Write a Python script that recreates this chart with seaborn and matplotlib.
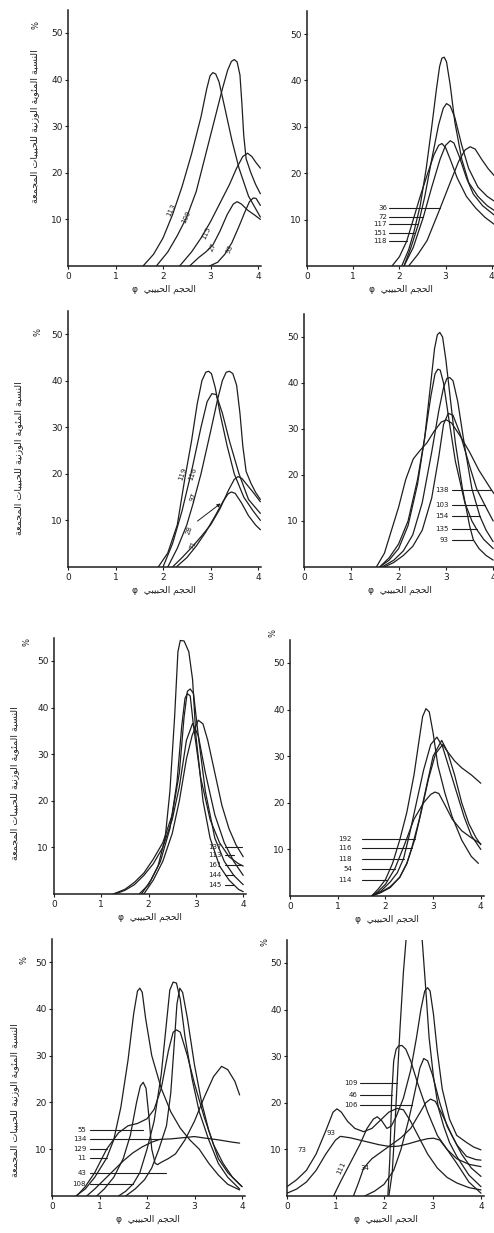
import matplotlib
matplotlib.use("Agg")
import matplotlib.pyplot as plt
import pandas as pd
import seaborn as sns

# grain size curves, phi (x) vs weight percent (y), 8 panels

# panel 1 (top left)
p1_names = ["113", "109", "115", "27", "93"]
p1_phi = [
    [1.58, 1.8, 2.0, 2.2, 2.4, 2.6, 2.8, 2.92, 2.99, 3.05, 3.11, 3.18, 3.3, 3.45, 3.6, 3.8, 4.05],
    [1.86, 2.1, 2.3, 2.5, 2.7, 2.9, 3.1, 3.25, 3.36, 3.44, 3.5, 3.56, 3.62, 3.66, 3.7, 3.75, 3.85, 3.95, 4.05],
    [2.35, 2.6, 2.8, 3.0, 3.2, 3.4, 3.55, 3.68, 3.78, 3.87, 3.95, 4.05],
    [2.56, 2.75, 2.9, 3.05, 3.2, 3.35, 3.48, 3.56, 3.65, 3.78, 3.92, 4.05],
    [2.98, 3.15, 3.3, 3.45, 3.6, 3.72, 3.82, 3.9, 3.96, 4.05],
]
p1_pct = [
    [0, 2.5, 6, 11, 17, 24, 32, 38, 40.8, 41.5, 41.2, 39.5, 34, 27, 21, 15, 10.5],
    [0, 3, 6.5, 10.5, 16, 24, 32, 38, 42, 43.9, 44.3, 43.8, 41, 35, 28, 23, 20, 17.5, 15.5],
    [0, 3, 6, 9.5, 13.5, 17.5, 21, 23.5, 24.2, 23.5, 22.3, 21],
    [0, 1.8, 3, 4.5, 7.5, 11, 13.3, 13.8, 13.3, 12, 11, 10],
    [0, 0.8, 2.5, 5, 8.5, 11.5, 13.8, 14.6, 14.5, 13],
]

# panel 2 (top right)
p2_names = ["36", "72", "117", "151", "118"]
p2_phi = [
    [2.2, 2.4, 2.6, 2.88, 3.1, 3.28, 3.42, 3.53, 3.64, 3.78, 3.92, 4.05],
    [2.1, 2.3, 2.52, 2.7, 2.88, 3.0, 3.1, 3.18, 3.3, 3.45, 3.6, 3.8, 4.05],
    [2.1, 2.25, 2.41, 2.55, 2.7, 2.85, 2.95, 3.02, 3.1, 3.2, 3.35, 3.5, 3.7, 3.9, 4.05],
    [2.05, 2.2, 2.31, 2.45, 2.58, 2.7, 2.8, 2.87, 2.92, 2.97, 3.02, 3.1, 3.2, 3.35, 3.5, 3.7, 3.9, 4.05],
    [1.84, 2.0, 2.16, 2.3, 2.45, 2.6, 2.75, 2.85, 2.92, 3.0, 3.1, 3.25, 3.45, 3.65, 3.85, 4.05],
]
p2_pct = [
    [0, 2.5, 5.5, 12.4, 18, 22.5, 25, 25.7, 25.2, 23, 21, 19.5],
    [0, 4, 10.6, 17, 23, 26, 27, 26.5, 23.5, 19, 15.5, 13, 11],
    [0, 4, 9, 15, 23, 30.5, 34, 35, 34.5, 32, 26, 21, 17, 15, 14],
    [0, 3.5, 7.2, 13, 21, 30, 38, 43, 44.8, 45, 44, 39, 31, 23, 18, 15, 13, 12],
    [0, 2, 5.4, 10, 15, 19.6, 24, 26, 26.4, 25.5, 23, 19, 15, 12.5, 10.5, 9],
]

# panel 3
p3_names = ["119", "116", "97", "28", "71"]
p3_phi = [
    [1.9, 2.1, 2.3, 2.46, 2.6, 2.72, 2.82, 2.9, 2.96, 3.02, 3.1, 3.2, 3.35, 3.5, 3.7, 3.9, 4.05],
    [2.0, 2.2, 2.4, 2.6, 2.8, 2.93, 3.03, 3.12, 3.25, 3.4, 3.6, 3.8, 4.05],
    [2.1, 2.3, 2.5, 2.63, 2.8, 3.0, 3.15, 3.25, 3.33, 3.4, 3.47, 3.55, 3.62, 3.68, 3.75, 3.85, 3.95, 4.05],
    [2.28, 2.5, 2.7, 2.9, 3.1, 3.26, 3.37, 3.44, 3.52, 3.65, 3.8, 3.95, 4.05],
    [2.2, 2.4, 2.63, 2.8, 3.0, 3.2, 3.38, 3.5, 3.58, 3.66, 3.78, 3.9, 4.05],
]
p3_pct = [
    [0, 3, 9, 19, 27, 35, 40, 41.8, 42, 41.5, 38.5, 33, 26, 20, 15, 12, 10],
    [0, 5, 12, 20.5, 30, 35.5, 37.2, 37, 33, 27, 20, 14.5, 11.5],
    [0, 4, 9, 13.5, 20, 29, 36, 40, 41.8, 42, 41.5, 39, 33, 26, 20.5, 18, 16, 14.5],
    [0, 2, 4.5, 7.5, 11, 14, 15.7, 16.1, 15.8, 13.8, 11, 9, 8],
    [0, 2, 4.5, 6.5, 9, 12.5, 16.5, 18.8, 19.4, 19, 17.5, 16, 14],
]

# panel 4
p4_names = ["138", "103", "154", "135", "93"]
p4_phi = [
    [1.53, 1.7, 1.85, 2.0, 2.15, 2.31, 2.45, 2.6, 2.75, 2.9, 3.01, 3.12, 3.3, 3.5, 3.7, 3.96, 4.05],
    [1.7, 1.9, 2.1, 2.3, 2.5, 2.7, 2.85, 2.95, 3.05, 3.15, 3.3, 3.5, 3.65, 3.82, 4.0],
    [1.65, 1.9, 2.1, 2.3, 2.5, 2.7, 2.85, 2.95, 3.02, 3.08, 3.15, 3.25, 3.4, 3.55, 3.72, 3.85, 4.0],
    [1.6, 1.8, 2.0, 2.2, 2.4, 2.55, 2.68, 2.77, 2.83, 2.88, 2.95, 3.05, 3.2, 3.4, 3.55, 3.65, 3.8, 4.0],
    [1.6, 1.8, 2.0, 2.2, 2.4, 2.55, 2.68, 2.76, 2.82, 2.87, 2.93, 3.0, 3.1, 3.2, 3.35, 3.5, 3.58, 3.7, 3.85, 4.0],
]
p4_pct = [
    [0, 3, 8, 13, 19, 23.5, 25.3, 27, 29.5, 31.5, 32, 31.3, 28.5, 25, 21, 16.8, 15.5],
    [0, 1, 2.5, 4.5, 8, 15, 24, 31, 33.4, 33, 29, 22, 17, 13.5, 10],
    [0, 1.5, 3.5, 7, 14, 25, 34, 39, 41, 41.2, 40.5, 36, 26, 17, 11, 8, 5.5],
    [0, 2, 5, 10, 19, 28, 37, 42, 43, 42.8, 40, 33, 23, 14, 10, 8.2, 6, 4],
    [0, 1.5, 4, 9, 18, 28, 40, 47.5, 50.5, 51, 50, 45, 36, 27, 17, 9, 5.9, 4, 2.5, 1.5],
]

# panel 5
p5_names = ["137", "113", "161", "144", "145"]
p5_phi = [
    [1.9, 2.1, 2.3, 2.5, 2.65, 2.8, 2.92, 3.05, 3.15, 3.25, 3.4, 3.55, 3.7, 3.85, 4.0],
    [1.3, 1.5, 1.7, 1.9, 2.1, 2.3, 2.5, 2.65, 2.8, 2.93, 3.05, 3.2, 3.4, 3.6, 3.8, 4.0],
    [1.85, 2.05, 2.25, 2.45, 2.6, 2.7, 2.77, 2.82, 2.88, 2.95, 3.1, 3.3, 3.5, 3.7, 3.9, 4.0],
    [1.25, 1.5, 1.7, 1.9, 2.1, 2.3, 2.5, 2.65, 2.75, 2.82, 2.88, 2.95, 3.05, 3.2, 3.4, 3.6, 3.8, 4.0],
    [1.8, 2.0, 2.2, 2.35, 2.45, 2.55, 2.62, 2.67, 2.75, 2.85, 2.93, 3.0, 3.15, 3.3, 3.5, 3.7, 3.9, 4.0],
]
p5_pct = [
    [0, 3, 7, 13, 20, 29, 34, 37.3, 36.5, 33, 26, 19, 14, 10.5, 8],
    [0, 0.8, 2, 4, 6.5, 10, 16, 23, 33, 36.6, 34, 26, 17, 11, 7, 4],
    [0, 3, 7, 14, 24, 36, 42, 43, 42.5, 36, 25, 16, 11, 8, 6.5, 6],
    [0, 1, 2.5, 4.5, 7.5, 11, 17, 26, 38, 43.5, 44, 43, 34, 22, 12, 7, 4, 2],
    [0, 2, 6, 12, 22, 38, 52, 54.4, 54.3, 52, 46, 34, 20, 12, 6, 3, 1, 0.5],
]

# panel 6
p6_names = ["192", "116", "118", "54", "114"]
p6_phi = [
    [1.71, 1.9, 2.1, 2.3, 2.45, 2.62, 2.75, 2.9, 3.05, 3.2, 3.3, 3.45, 3.6, 3.8, 4.0],
    [1.71, 1.9, 2.1, 2.3, 2.45, 2.55, 2.7, 2.85, 3.0, 3.18, 3.3, 3.45, 3.6, 3.75, 3.9, 4.0],
    [1.71, 1.9, 2.1, 2.25, 2.38, 2.5, 2.65, 2.8, 2.95, 3.08, 3.2, 3.35, 3.5, 3.65, 3.8, 4.0],
    [1.71, 1.85, 2.0, 2.2, 2.4, 2.6, 2.8, 2.95, 3.04, 3.12, 3.25, 3.4, 3.6, 3.8, 4.0],
    [1.71, 1.85, 2.0, 2.15, 2.3, 2.45, 2.6, 2.7, 2.78, 2.85, 2.92, 3.0, 3.1, 3.25, 3.4, 3.6, 3.8, 3.95],
]
p6_pct = [
    [0, 0.7, 1.8, 4, 7, 12.3, 18, 25, 30.5, 32.5, 31, 29, 27.5, 26, 24.2],
    [0, 0.8, 2, 4, 7, 10.2, 16, 23, 30, 33.4, 31, 26, 20, 15.5, 12.5, 11],
    [0, 1, 3, 5, 8, 13, 20, 27, 32.5, 34.1, 32, 27, 22, 17, 13, 10],
    [0, 1, 2.5, 5.9, 11, 16.5, 20, 21.8, 22.3, 22, 19.5, 16.5, 14, 12.5, 11.2],
    [0, 1.5, 3.5, 7, 12, 18, 26, 33, 38.5, 40.2, 39.5, 35, 28, 22, 17, 12, 8.5, 7],
]

# panel 7
p7_names = ["55", "134", "129", "11", "43", "108"]
p7_phi = [
    [0.94, 1.1, 1.3, 1.5, 1.65, 1.78, 1.86, 1.92, 1.98, 2.04, 2.1, 2.17, 2.22, 2.3, 2.45, 2.6, 2.8, 3.0, 3.2, 3.4, 3.57, 3.7, 3.85, 3.95],
    [0.73, 0.9, 1.1, 1.3, 1.5, 1.7, 1.9, 2.1, 2.27, 2.5, 2.7, 2.9, 3.0, 3.2, 3.5, 3.8, 3.95],
    [0.52, 0.7, 0.9, 1.15, 1.4, 1.6, 1.8, 2.0, 2.15, 2.3, 2.45, 2.55, 2.62, 2.7, 2.85, 3.0, 3.2, 3.4, 3.6, 3.8, 4.0],
    [0.5, 0.7, 0.9, 1.15, 1.3, 1.45, 1.6, 1.72, 1.8, 1.85, 1.9, 1.97, 2.1, 2.3, 2.5, 2.7, 2.9, 3.1, 3.3, 3.5, 3.7, 3.95],
    [1.55, 1.75, 1.95, 2.1, 2.25, 2.41, 2.5, 2.57, 2.63, 2.69, 2.75, 2.85, 3.0, 3.15, 3.3, 3.5, 3.7, 3.9, 4.0],
    [1.4, 1.55, 1.71, 1.85, 2.0, 2.15, 2.3, 2.4, 2.48, 2.55, 2.62, 2.7, 2.8, 2.95, 3.1, 3.3, 3.5, 3.7, 3.95],
]
p7_pct = [
    [0, 1.5, 4, 8, 13, 20, 23.5, 24.3, 23, 17, 10, 7, 6.7, 7.2, 8, 9, 12, 16, 21, 25.5, 27.7, 27, 24.5, 21.6],
    [0, 1.5, 3.5, 5.5, 7.5, 9.2, 10.5, 11.5, 12.1, 12.2, 12.4, 12.6, 12.7, 12.4, 12, 11.5, 11.3],
    [0, 2, 5, 10, 13.5, 15, 15.5, 16.5, 18.5, 23, 31, 35, 35.5, 35, 30, 24, 17, 11, 7, 4, 2],
    [0, 1.5, 4, 8.1, 12, 19, 29, 39, 43.8, 44.4, 43.5, 38, 30, 23, 18, 14.5, 12, 10, 7, 4.5, 2.5, 1.3],
    [0, 1.5, 3.5, 6, 10, 15, 22, 32, 41, 44.4, 43.5, 38, 28, 20, 14, 8, 5, 3, 2],
    [0, 1, 2.6, 5, 10, 16, 26, 36, 44, 45.7, 45.5, 42, 34, 25, 18, 12, 7, 4, 1.5],
]

# panel 8
p8_names = ["109", "111", "46", "106", "34", "73", "93"]
p8_phi = [
    [2.1, 2.17, 2.22, 2.27, 2.33, 2.4, 2.47, 2.55, 2.62, 2.7, 2.78, 2.85, 2.93, 3.02, 3.12, 3.23, 3.35, 3.5, 3.75, 4.0],
    [0.96, 1.1, 1.3, 1.5, 1.65, 1.78, 1.86, 1.95, 2.06, 2.15, 2.25, 2.4, 2.55, 2.67, 2.76, 2.84, 2.9, 2.95, 3.02, 3.1, 3.2, 3.35, 3.5, 3.7, 3.85, 4.0],
    [2.08, 2.12, 2.16, 2.2, 2.25, 2.3, 2.37, 2.45, 2.55, 2.7, 2.9, 3.1, 3.3, 3.5, 3.75, 4.0],
    [1.6, 1.8, 2.0, 2.2, 2.35, 2.5, 2.58, 2.66, 2.74, 2.82, 2.9, 3.0, 3.15, 3.3, 3.5, 3.7, 3.9, 4.0],
    [1.37, 1.48, 1.58, 1.75, 1.95, 2.15, 2.35, 2.55, 2.72, 2.86, 2.96, 3.06, 3.2, 3.4, 3.6, 3.8, 4.0],
    [0.0, 0.2, 0.4, 0.6, 0.8, 0.95, 1.03, 1.12, 1.25, 1.4, 1.58, 1.75, 1.95, 2.1, 2.27, 2.4, 2.55, 2.7, 2.9, 3.1, 3.3, 3.5, 3.75, 4.0],
    [0.0, 0.2, 0.4, 0.6, 0.8, 1.0, 1.1, 1.3, 1.5, 1.7, 1.9, 2.13, 2.3, 2.5, 2.7, 2.9, 3.02, 3.15, 3.3, 3.5, 3.75, 4.0],
]
p8_pct = [
    [0, 5, 14, 24.2, 36, 48, 57, 64, 66, 63, 56, 46, 34, 25.6, 19, 15, 11.5, 8.5, 4.5, 2],
    [0, 3, 7, 11, 14.5, 16.5, 17, 16.2, 14.5, 15, 17, 21, 27, 34, 40, 44, 44.7, 44, 39, 31, 23, 16.5, 13, 11.5, 10.5, 9.9],
    [0, 8, 21.7, 29, 31.5, 32.2, 32.3, 31.5, 29, 24, 18, 13, 10, 8, 6.8, 6.3],
    [0, 1, 2.5, 5.5, 10, 16, 19.6, 23.5, 27.5, 29.5, 29, 26, 20, 15, 11, 8.5, 7.8, 7.7],
    [0, 3, 6, 8, 9.5, 11, 12.5, 14.5, 17.5, 20, 20.8, 20.3, 17.5, 13, 9, 6, 4.2],
    [2, 3.5, 5.5, 9, 14, 18, 18.7, 18, 16, 14.5, 13.8, 14.5, 16.5, 18, 18.8, 18.5, 16, 13, 9, 6, 4, 2.8, 1.8, 1.3],
    [0.6, 1.5, 3, 5.5, 9, 12, 12.8, 12.5, 12, 11.5, 11, 10.6, 10.7, 11.2, 11.8, 12.3, 12.4, 12, 10, 7, 3, 0.6],
]

x_ticks = [0, 1, 2, 3, 4]
y_ticks = [10, 20, 30, 40, 50]
xlabel_ar = "الحجم الحبيبي"
ylabel_ar = "النسبة المئوية الوزنية للحبيبات المجمعة"

# matplotlib has no arabic shaping, so map letters to presentation forms by hand
dual = {"ب": 0xFE8F, "ت": 0xFE95, "ج": 0xFE9D, "ح": 0xFEA1, "س": 0xFEB1, "ع": 0xFEC9,
        "ل": 0xFEDD, "م": 0xFEE1, "ن": 0xFEE5, "ي": 0xFEF1, "ئ": 0xFE89, "ه": 0xFEE9}
right_only = {"ا": 0xFE8D, "ة": 0xFE93, "و": 0xFEED, "ز": 0xFEAF, "د": 0xFEA9, "ر": 0xFEAD}


def shape(text):
    out = []
    for i, ch in enumerate(text):
        if ch not in dual and ch not in right_only:
            out.append(ch)
            continue
        prev = text[i - 1] if i > 0 else ""
        nxt = text[i + 1] if i + 1 < len(text) else ""
        join_prev = prev in dual
        join_next = ch in dual and (nxt in dual or nxt in right_only)
        base = dual.get(ch, right_only.get(ch))
        if join_prev and join_next:
            out.append(chr(base + 3))
        elif join_prev:
            out.append(chr(base + 1))
        elif join_next:
            out.append(chr(base + 2))
        else:
            out.append(chr(base))
    return "".join(reversed(out))


xlab = "\u03c6  " + shape(xlabel_ar)
ylab = shape(ylabel_ar)

sns.set_style("ticks")
plt.rcParams["font.family"] = ["DejaVu Sans"]
ink = "#1e1e1e"

W, H = 494, 1233
fig = plt.figure(figsize=(W / 100, H / 100), dpi=100)

# origin of each panel in pixels (from top left) and pixels per phi / per percent
boxes = [(68, 266, 47.5, 4.66), (307, 266, 46.2, 4.64),
         (68, 567, 47.5, 4.66), (304, 567, 47.3, 4.6),
         (54, 894, 47.3, 4.66), (290, 896, 47.7, 4.66),
         (52, 1196, 47.5, 4.68), (287, 1196, 48.5, 4.66)]


def make_axes(box):
    ox, oy, xu, yu = box
    ax = fig.add_axes([ox / W, 1 - oy / H, 4.06 * xu / W, 55 * yu / H])
    ax.set_xlim(0, 4.06)
    ax.set_ylim(0, 55)
    sns.despine(ax=ax)
    for s in ["left", "bottom"]:
        ax.spines[s].set_linewidth(1.1)
        ax.spines[s].set_color(ink)
    ax.set_xticks(x_ticks)
    ax.set_yticks(y_ticks)
    ax.tick_params(labelsize=6.5, length=2.5, width=0.8, pad=1.5, colors=ink)
    ax.patch.set_alpha(0)
    return ax


def draw_curves(ax, phis, pcts):
    for xs, ys in zip(phis, pcts):
        df = pd.DataFrame({"phi": xs, "pct": ys})
        sns.lineplot(data=df, x="phi", y="pct", ax=ax, color=ink, linewidth=0.9,
                     estimator=None, sort=False)
    ax.set_xlabel(xlab, fontsize=6.5, labelpad=3, color=ink)
    ax.set_ylabel("")


def leaders(ax, names, ys, x_text, x_start, x_ends):
    for name, y, xe in zip(names, ys, x_ends):
        ax.text(x_text, y, name, fontsize=5, ha="right", va="center", color=ink)
        ax.plot([x_start, xe], [y, y], color=ink, lw=0.8)


def fig_text(px, py, s, **kw):
    fig.text(px / W, 1 - py / H, s, color=ink, **kw)


all_phi = [p1_phi, p2_phi, p3_phi, p4_phi, p5_phi, p6_phi, p7_phi, p8_phi]
all_pct = [p1_pct, p2_pct, p3_pct, p4_pct, p5_pct, p6_pct, p7_pct, p8_pct]
axes = []
for box, phis, pcts in zip(boxes, all_phi, all_pct):
    ax = make_axes(box)
    draw_curves(ax, phis, pcts)
    axes.append(ax)

# panel 1 labels sit on the rising limbs
for name, x, y in zip(p1_names, [2.18, 2.49, 2.9, 3.05, 3.4], [12, 10.5, 7, 4, 3.7]):
    axes[0].text(x, y, name, fontsize=5, rotation=65, ha="center", va="center", color=ink)

leaders(axes[1], p2_names, [12.4, 10.6, 9.0, 7.2, 5.4], 1.73, 1.78, [2.88, 2.52, 2.41, 2.31, 2.16])

for name, x, y in zip(p3_names, [2.42, 2.62, 2.63, 2.56, 2.63], [20, 20, 15, 8, 4.7]):
    axes[2].text(x, y, name, fontsize=5, rotation=70, ha="center", va="center", color=ink)
axes[2].annotate("", xy=(3.26, 14), xytext=(2.68, 9.5),
                 arrowprops=dict(arrowstyle="-|>", lw=0.7, color=ink, mutation_scale=5))

leaders(axes[3], p4_names, [16.8, 13.5, 11.0, 8.2, 5.9], 3.05, 3.12, [3.96, 3.82, 3.72, 3.65, 3.58])
leaders(axes[4], p5_names, [10.1, 8.4, 6.2, 4.1, 1.9], 3.55, 3.62, [3.98, 3.8, 3.98, 3.8, 3.8])
leaders(axes[5], p6_names, [12.3, 10.2, 8.0, 5.9, 3.5], 1.3, 1.5, [2.62, 2.55, 2.38, 2.2, 2.03])
leaders(axes[6], p7_names, [14.1, 12.1, 10.0, 8.1, 5.0, 2.6], 0.72, 0.8, [1.92, 2.27, 1.15, 1.15, 2.41, 1.71])
leaders(axes[7], p8_names[:1] + p8_names[2:4], [24.2, 21.7, 19.6], 1.45, 1.51, [2.27, 2.16, 2.58])
axes[7].text(0.3, 9.9, "73", fontsize=5, ha="center", va="center", color=ink)
axes[7].text(0.9, 13.5, "93", fontsize=5, ha="center", va="center", color=ink)
axes[7].text(1.12, 6, "111", fontsize=5, rotation=65, ha="center", va="center", color=ink)
axes[7].text(1.6, 6, "34", fontsize=5, ha="center", va="center", color=ink)

# y labels and percent signs of the left column
for px, py in [(35, 126), (19, 458), (15, 783), (15, 1100)]:
    fig_text(px, py, ylab, fontsize=6.8, rotation=90, ha="center", va="center")
for px, py in [(36, 25), (38, 332), (27, 642), (273, 633), (24, 960), (265, 942)]:
    fig_text(px, py, "%", fontsize=6, rotation=90, ha="center", va="center")

fig.savefig("out.png", dpi=100, facecolor="white")
